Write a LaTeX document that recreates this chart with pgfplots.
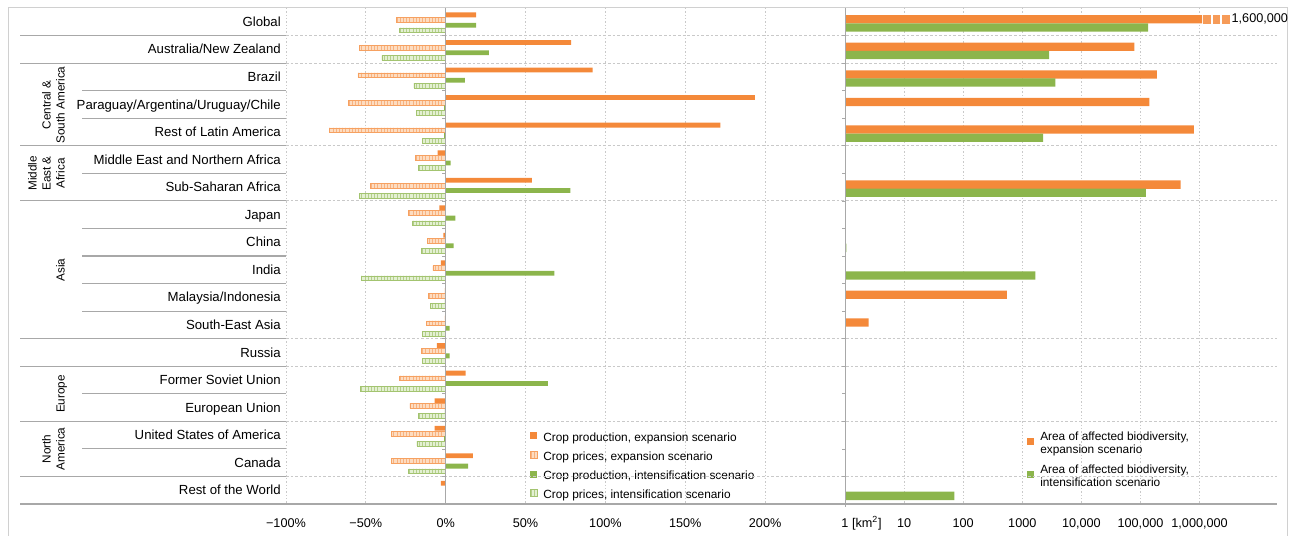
\documentclass[border=0pt]{standalone}
\usepackage{fontspec}
\setmainfont{Liberation Sans}
\usepackage{pgfplots}
\pgfplotsset{compat=1.18}
\usepackage{pgfplotstable}
\usetikzlibrary{patterns.meta}
\definecolor{corange}{HTML}{F4893A}
\definecolor{cgreen}{HTML}{8CB54C}
\definecolor{lorange}{HTML}{FDDCC0}
\definecolor{lgreen}{HTML}{E3F0D2}
\definecolor{gridc}{HTML}{C9C9C9}
\definecolor{linec}{HTML}{A8A8A8}
\definecolor{framec}{HTML}{D0D0D0}

\pgfplotstableread{
row pe pp ie ip
1 19 -31 19 -29
2 78.5 -54 27 -40
3 92 -55 12 -20
4 193.5 -61 -1 -18.5
5 172 -73 -1 -14.5
6 -5 -19 3 -17
7 54 -47 78 -54
8 -4 -23.5 6 -21
9 -1.5 -11.5 5 -15
10 -3 -8 68 -53
11 -0.5 -11 -0.5 -9.5
12 -0.5 -12 2.5 -14.5
13 -5.5 -15 2.5 -14.5
14 12.5 -29 64 -53.5
15 -7 -22.5 -0.5 -17
16 -7 -34 -1 -18
17 17 -34 14 -23.5
18 -3 nan nan nan
}\cropdata

\pgfplotstableread{
row e i
1 1100000 135000
2 79000 2830
3 189000 3630
4 141000 nan
5 800000 2240
7 475000 123000
9 nan 1.05
10 nan 1660
11 550 nan
12 2.5 nan
18 nan 71
}\areadata

\begin{document}
\begin{tikzpicture}
\path (0,0) rectangle (967.5pt,402pt);
\draw[framec, line width=0.75pt] (6pt,0) -- (6pt,396pt) -- (965.25pt,396pt) -- (965.25pt,0);

\begin{axis}[
  at={(214.5pt,24pt)}, anchor=south west,
  scale only axis, width=419.25pt, height=372pt,
  xmin=-100, xmax=250, ymin=0.5, ymax=18.5, y dir=reverse,
  axis line style={draw=none}, major tick length=0pt,
  xtick={-100,-50,0,50,100,150,200},
  xticklabels={−100\%,−50\%,0\%,50\%,100\%,150\%,200\%},
  ytick={1,...,18},
  yticklabels={Global,Australia/New Zealand,Brazil,Paraguay/Argentina/Uruguay/Chile,Rest of Latin America,Middle East and Northern Africa,Sub-Saharan Africa,Japan,China,India,Malaysia/Indonesia,South-East Asia,Russia,Former Soviet Union,European Union,United States of America,Canada,Rest of the World},
  yticklabel style={font=\fontsize{9.9}{11}\selectfont, anchor=base east, inner sep=0pt, xshift=-3.75pt, yshift=-3.5pt},
  xticklabel style={font=\fontsize{9.5}{11}\selectfont, anchor=base, inner sep=0pt, yshift=-17.6pt},
  xmajorgrids, major grid style={gridc, dash pattern=on 1pt off 1.5pt, line width=0.6pt},
  bar width=0.175,
  clip=false,
  legend style={at={(axis cs:52.5,15.88)}, anchor=north west, draw=none, fill=none,
    font=\fontsize{8.9}{10.5}\selectfont, row sep=5.3pt, inner sep=0pt,
    nodes={inner sep=0pt, text height=7pt, text depth=2pt},
    /tikz/every odd column/.style={column sep=4.5pt}},
  legend cell align=left,
  legend image code/.code={\path[#1] (0pt,-1pt) rectangle (5.25pt,4.25pt);},
]
\addplot[xbar, bar shift=-0.25, fill=corange, draw=none] table[x=pe,y=row]{\cropdata};
\addplot[xbar, bar shift=-0.06, fill=lorange, draw=corange!80, line width=0.4pt,
  postaction={pattern={Lines[angle=90,distance=2.4pt,line width=0.4pt]}, pattern color=corange!65}] table[x=pp,y=row]{\cropdata};
\addplot[xbar, bar shift=0.125, fill=cgreen, draw=none] table[x=ie,y=row]{\cropdata};
\addplot[xbar, bar shift=0.31, fill=lgreen, draw=cgreen!80, line width=0.4pt,
  postaction={pattern={Lines[angle=90,distance=2.4pt,line width=0.4pt]}, pattern color=cgreen!65}] table[x=ip,y=row]{\cropdata};
\legend{{Crop production, expansion scenario},{Crop prices, expansion scenario},{Crop production, intensification scenario},{Crop prices, intensification scenario}}
\end{axis}

\begin{axis}[
  at={(633.75pt,24pt)}, anchor=south west,
  scale only axis, width=324pt, height=372pt,
  xmode=log, log basis x=10, xmin=1, xmax=2.04e7, ymin=0.5, ymax=18.5, y dir=reverse,
  axis line style={draw=none}, major tick length=0pt, minor tick length=0pt,
  xtick={1,10,100,1000,10000,100000,1000000},
  xticklabels={1\rlap{~[km\textsuperscript{2}]},10,100,1000,{10,000},{100,000},{1,000,000}},
  ytick=\empty,
  xticklabel style={font=\fontsize{9.5}{11}\selectfont, anchor=base, inner sep=0pt, yshift=-17.6pt},
  xmajorgrids, major grid style={gridc, dash pattern=on 1pt off 1.5pt, line width=0.6pt},
  bar width=0.30,
  clip=false,
  legend style={at={(axis cs:1200,15.87)}, anchor=north west, draw=none, fill=none,
    font=\fontsize{8.9}{10.1}\selectfont, row sep=6.5pt, inner sep=0pt,
    nodes={inner sep=0pt}, cells={align=left},
    /tikz/every odd column/.style={column sep=4.5pt}},
  legend cell align=left,
  legend image code/.code={\path[#1] (0pt,-1pt) rectangle (5.25pt,4.25pt);},
]
\addplot[xbar, bar shift=-0.09, fill=corange, draw=none] table[x=e,y=row]{\areadata};
\addplot[xbar, bar shift=0.205, fill=cgreen, draw=none] table[x=i,y=row]{\areadata};
\addplot[only marks, mark=square*, mark size=2.4pt, color=corange!85, mark options={solid, draw=corange!85, fill=corange!85, yscale=1.35}, forget plot]
  coordinates {(1.32e6,0.91) (1.9e6,0.91) (2.75e6,0.91)};
\node[anchor=west, font=\fontsize{9.5}{11}\selectfont, inner sep=0pt] at (axis cs:3.45e6,0.91) {1,600,000};
\legend{{Area of affected biodiversity,\\expansion scenario},{Area of affected biodiversity,\\intensification scenario}}
\end{axis}

% separators
\foreach \k in {1,2,5,7,12,13,15,17} {
  \draw[linec, line width=0.9pt] (15pt,{396pt-20.6667pt*\k}) -- (214.5pt,{396pt-20.6667pt*\k});
  \draw[gridc, line width=0.6pt, dash pattern=on 2pt off 1.5pt] (214.5pt,{396pt-20.6667pt*\k}) -- (957.75pt,{396pt-20.6667pt*\k});
}
\foreach \k in {3,4,6,8,9,10,11,14,16} {
  \draw[linec, line width=0.9pt] (61.5pt,{396pt-20.6667pt*\k}) -- (214.5pt,{396pt-20.6667pt*\k});
}
\draw[linec, line width=0.9pt] (15pt,24pt) -- (957.75pt,24pt);
\draw[linec, line width=0.6pt] (333.75pt,24pt) -- (333.75pt,396pt);
\draw[linec, line width=0.6pt] (633.75pt,24pt) -- (633.75pt,396pt);
\foreach \k in {1,...,17} {
  \draw[linec, line width=0.5pt] (331.5pt,{396pt-20.6667pt*\k}) -- (333.75pt,{396pt-20.6667pt*\k});
  \draw[linec, line width=0.5pt] (631.5pt,{396pt-20.6667pt*\k}) -- (633.75pt,{396pt-20.6667pt*\k});
}
\draw[linec, line width=0.5pt] (633.75pt,24pt) -- (633.75pt,21.5pt);

\begin{scope}[every node/.style={font=\fontsize{8.8}{10.5}\selectfont, rotate=90, anchor=south, align=center, inner sep=0pt, text depth=0pt}]
\node at (48.75pt,323.25pt) {Central \&\\South America};
\node at (48.75pt,271.9pt) {Middle\\East \&\\Africa};
\node at (48.75pt,199.5pt) {Asia};
\node at (48.75pt,106.5pt) {Europe};
\node at (48.75pt,65.25pt) {North\\America};
\end{scope}
\end{tikzpicture}
\end{document}
